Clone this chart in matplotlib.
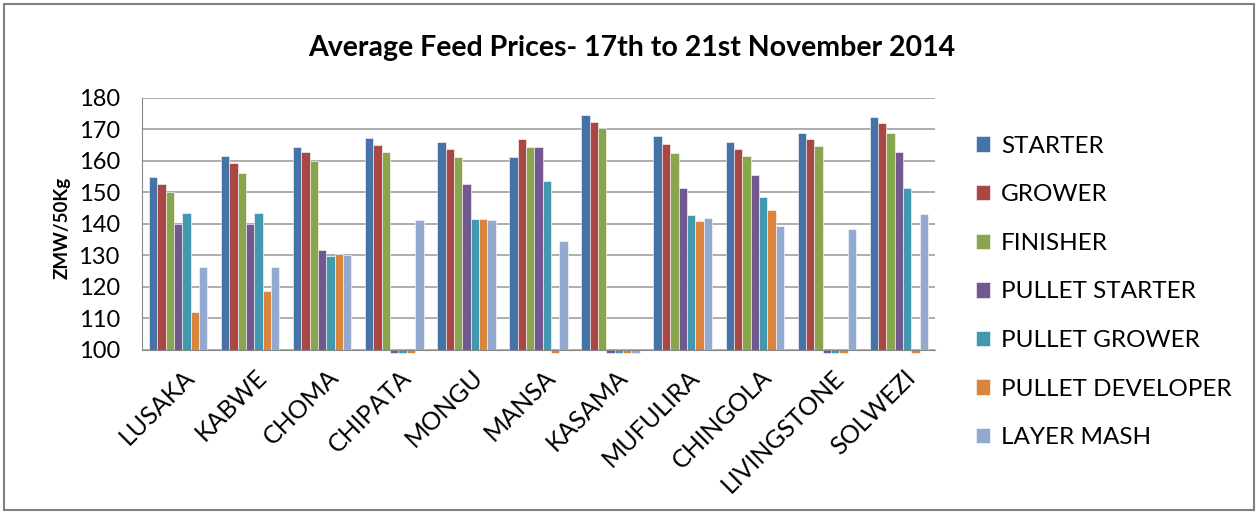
import matplotlib.pyplot as plt
from matplotlib.patches import Rectangle
import matplotlib.transforms as mtransforms
import numpy as np

plt.rcParams['font.family'] = ['Lato', 'DejaVu Sans']

# towns on the x axis
towns = ['LUSAKA', 'KABWE', 'CHOMA', 'CHIPATA', 'MONGU', 'MANSA', 'KASAMA',
         'MUFULIRA', 'CHINGOLA', 'LIVINGSTONE', 'SOLWEZI']

# prices ZMW per 50Kg, 0 = no price reported
starter = [154.8, 161.5, 164.6, 167.4, 165.9, 161.4, 174.5, 167.8, 165.9, 169.0, 173.9]
grower = [152.8, 159.3, 163.0, 165.0, 163.8, 167.1, 172.3, 165.4, 163.8, 167.1, 172.0]
finisher = [150.0, 156.1, 160.0, 163.0, 161.4, 164.3, 170.4, 162.6, 161.7, 164.7, 169.0]
pullet_starter = [140.0, 140.0, 131.9, 0, 152.8, 164.6, 0, 151.5, 155.6, 0, 163.0]
pullet_grower = [143.4, 143.4, 129.8, 0, 141.6, 153.5, 0, 142.9, 148.6, 0, 151.5]
pullet_developer = [112.2, 118.8, 130.6, 0, 141.6, 0, 0, 140.9, 144.6, 0, 0]
layer_mash = [126.2, 126.2, 130.2, 141.3, 141.3, 134.7, 0, 142.0, 139.3, 138.4, 143.3]

series = [('STARTER', starter, '#4572A7'),
          ('GROWER', grower, '#AA4643'),
          ('FINISHER', finisher, '#89A54E'),
          ('PULLET STARTER', pullet_starter, '#71588F'),
          ('PULLET GROWER', pullet_grower, '#4198AF'),
          ('PULLET DEVELOPER', pullet_developer, '#DB843D'),
          ('LAYER MASH', layer_mash, '#93A9CF')]

fig = plt.figure(figsize=(12.58, 5.14), dpi=100)
ax = fig.add_axes([142 / 1258, 1 - 350 / 514, (935 - 142) / 1258, (350 - 98) / 514])

x = np.arange(len(towns))
w = 0.116
for i, (name, vals, col) in enumerate(series):
    vals = np.array(vals, dtype=float)
    # excel draws missing (zero) values as a tiny stub under the axis
    heights = np.where(vals > 0, vals - 100, -0.8)
    ax.bar(x + (i - 3) * w, heights, w, bottom=100, color=col, label=name,
           edgecolor='white', linewidth=0.4, clip_on=False, zorder=3)

ax.set_xlim(-0.5, len(towns) - 0.5)
ax.set_ylim(100, 180)
ax.set_yticks(range(100, 181, 10))
ax.grid(axis='y', color='#A0A0A0', linewidth=1.2, zorder=0)
for s in ['top', 'right']:
    ax.spines[s].set_visible(False)
ax.spines['left'].set_color('#888888')
ax.spines['bottom'].set_color('#888888')
ax.spines['bottom'].set_zorder(4)
ax.tick_params(axis='y', length=0, labelsize=17, pad=16)
ax.tick_params(axis='x', length=0, pad=11)
ax.set_xticks(x)
ax.set_xticklabels(towns, rotation=45, ha='right', rotation_mode='anchor', fontsize=18)
shift = mtransforms.ScaledTranslation(5 / 100, 0, fig.dpi_scale_trans)
for lab in ax.get_xticklabels():
    lab.set_transform(lab.get_transform() + shift)

fig.text(62 / 1258, 1 - 228 / 514, 'ZMW/50Kg', rotation=90, ha='center', va='center',
         fontsize=13.5, fontweight='bold')
fig.text(632 / 1258, 1 - 48 / 514, 'Average Feed Prices- 17th to 21st November 2014',
         ha='center', va='center', fontsize=20.5, fontweight='bold')

fig.legend(loc='upper left', bbox_to_anchor=(966 / 1258, 1 - 126 / 514), frameon=False,
           fontsize=17.5, handlelength=0.6, handleheight=0.6, handletextpad=0.45,
           labelspacing=1.135, borderaxespad=0)

fig.patches.append(Rectangle((4 / 1258, 4 / 514), 1250 / 1258, 506 / 514, fill=False,
                             edgecolor='#808080', linewidth=1.5, transform=fig.transFigure))

fig.savefig('out.png', dpi=100)
